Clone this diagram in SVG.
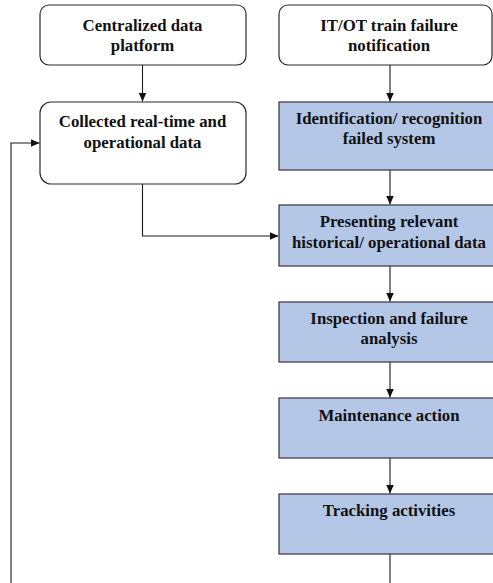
<svg xmlns="http://www.w3.org/2000/svg" width="493" height="583" viewBox="0 0 493 583">
  <style>
    .rnd { fill: #ffffff; stroke: #2b2b2b; stroke-width: 1.2; }
    .step { fill: #b4c7e7; stroke: #333333; stroke-width: 1.2; }
    .lbl { font-family: "Liberation Serif", "Times New Roman", serif; font-weight: bold; font-size: 16.8px; fill: #111111; text-anchor: middle; }
    .wire { fill: none; stroke: #1a1a1a; stroke-width: 1.1; }
  </style>
  <defs>
    <marker id="arrow" markerWidth="9" markerHeight="8" refX="9" refY="4" orient="auto" markerUnits="userSpaceOnUse">
      <path d="M0,0 L9,4 L0,8 Z" fill="#111111"/>
    </marker>
  </defs>

  <rect width="493" height="583" fill="#ffffff"/>

  <g id="connectors">
    <path class="wire" d="M142.5,65 V101.5" marker-end="url(#arrow)"/>
    <path class="wire" d="M390,65 V101.5" marker-end="url(#arrow)"/>
    <path class="wire" d="M390,170 V204.5" marker-end="url(#arrow)"/>
    <path class="wire" d="M142.5,184 V236 H278.5" marker-end="url(#arrow)"/>
    <path class="wire" d="M390,266 V301.5" marker-end="url(#arrow)"/>
    <path class="wire" d="M390,362 V397.5" marker-end="url(#arrow)"/>
    <path class="wire" d="M390,458 V493.5" marker-end="url(#arrow)"/>
    <path class="wire" d="M390,554 V583"/>
    <path class="wire" d="M11,583 V143 H39.5" marker-end="url(#arrow)"/>
  </g>

  <g id="centralized-platform">
    <rect class="rnd" x="40" y="5" width="206" height="60" rx="9"/>
    <text class="lbl" x="142.5" y="30.5">Centralized data</text>
    <text class="lbl" x="142.5" y="51">platform</text>
  </g>

  <g id="failure-notification">
    <rect class="rnd" x="279" y="5" width="213" height="60" rx="9"/>
    <text class="lbl" x="389" y="30.5">IT/OT train failure</text>
    <text class="lbl" x="389" y="51">notification</text>
  </g>

  <g id="collected-data">
    <rect class="rnd" x="40" y="102" width="206" height="82" rx="11"/>
    <text class="lbl" x="142.5" y="127">Collected real-time and</text>
    <text class="lbl" x="142.5" y="147.5">operational data</text>
  </g>

  <g id="identification">
    <rect class="step" x="279" y="102" width="220" height="68"/>
    <text class="lbl" x="389" y="123.5">Identification/ recognition</text>
    <text class="lbl" x="389" y="144">failed system</text>
  </g>

  <g id="presenting-data">
    <rect class="step" x="279" y="205" width="220" height="61"/>
    <text class="lbl" x="389" y="227">Presenting relevant</text>
    <text class="lbl" x="389" y="247.5">historical/ operational data</text>
  </g>

  <g id="inspection">
    <rect class="step" x="279" y="302" width="220" height="60"/>
    <text class="lbl" x="389" y="323.5">Inspection and failure</text>
    <text class="lbl" x="389" y="344">analysis</text>
  </g>

  <g id="maintenance">
    <rect class="step" x="279" y="398" width="220" height="60"/>
    <text class="lbl" x="389" y="420.5">Maintenance action</text>
  </g>

  <g id="tracking">
    <rect class="step" x="279" y="494" width="220" height="60"/>
    <text class="lbl" x="389" y="515.5">Tracking activities</text>
  </g>
</svg>
